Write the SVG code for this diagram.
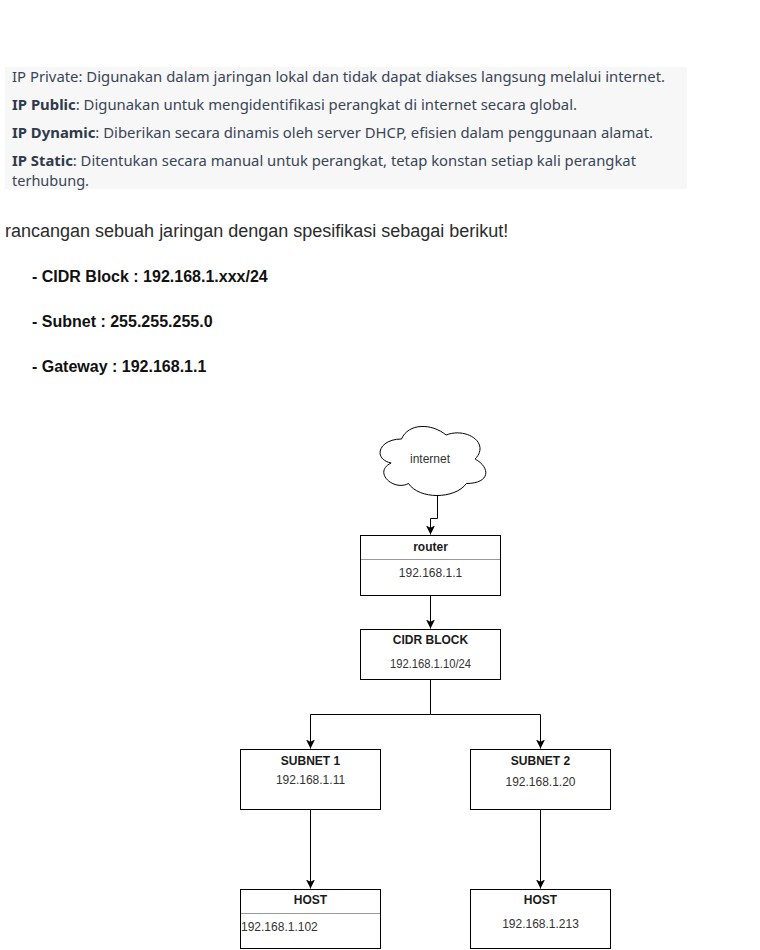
<svg xmlns="http://www.w3.org/2000/svg" width="760" height="950" viewBox="0 0 760 950">
<defs>
<style>
.intro{font-family:"Noto Sans","Open Sans","Liberation Sans",sans-serif;font-size:14px;fill:#3a4556}
.intro .b{font-weight:bold;fill:#2f3a4a}
.para{font-family:"Liberation Sans",Arial,sans-serif;font-size:18px;fill:#2b2b2b}
.spec{font-family:"Liberation Sans",Arial,sans-serif;font-size:16px;font-weight:bold;fill:#111}
.box{fill:#fff;stroke:#000;stroke-width:1}
.div{stroke:#999;stroke-width:1}
.t{font-family:"Liberation Sans",Arial,sans-serif;font-size:12px;font-weight:bold;fill:#1a1a1a;text-anchor:middle}
.ip{font-family:"Liberation Sans",Arial,sans-serif;font-size:12px;fill:#333;text-anchor:middle}
.edge{fill:none;stroke:#000;stroke-width:1}
</style>
<marker id="arr" viewBox="0 0 10 10" refX="10" refY="5" markerWidth="9" markerHeight="9" markerUnits="userSpaceOnUse" orient="auto">
<path d="M0,0 L10,5 L0,10 L2.5,5 Z" fill="#000"/>
</marker>
</defs>
<rect width="760" height="950" fill="#fff"/>

<g id="intro">
<rect x="5" y="67" width="682" height="122" fill="#f7f7f8"/>
<text class="intro" x="12" y="82" textLength="653" lengthAdjust="spacingAndGlyphs">IP Private: Digunakan dalam jaringan lokal dan tidak dapat diakses langsung melalui internet.</text>
<text class="intro" x="12" y="110" textLength="565" lengthAdjust="spacingAndGlyphs"><tspan class="b">IP Public</tspan>: Digunakan untuk mengidentifikasi perangkat di internet secara global.</text>
<text class="intro" x="12" y="138" textLength="641" lengthAdjust="spacingAndGlyphs"><tspan class="b">IP Dynamic</tspan>: Diberikan secara dinamis oleh server DHCP, efisien dalam penggunaan alamat.</text>
<text class="intro" x="12" y="166" textLength="624" lengthAdjust="spacingAndGlyphs"><tspan class="b">IP Static</tspan>: Ditentukan secara manual untuk perangkat, tetap konstan setiap kali perangkat</text>
<text class="intro" x="12" y="186" textLength="77" lengthAdjust="spacingAndGlyphs">terhubung.</text>
</g>

<g id="spec">
<text class="para" x="5" y="237">rancangan sebuah jaringan dengan spesifikasi sebagai berikut!</text>
<text class="spec" x="32" y="282">- CIDR Block : 192.168.1.xxx/24</text>
<text class="spec" x="32" y="327">- Subnet : 255.255.255.0</text>
<text class="spec" x="32" y="372">- Gateway : 192.168.1.1</text>
</g>

<g id="connectors">
<path class="edge" d="M437.5,495 V518.5 H430.5 V534.5" marker-end="url(#arr)"/>
<path class="edge" d="M430.5,595 V628.5" marker-end="url(#arr)"/>
<path class="edge" d="M430.5,679 V714.5 H310.5 V748.5" marker-end="url(#arr)"/>
<path class="edge" d="M430.5,714.5 H540.5 V748.5" marker-end="url(#arr)"/>
<path class="edge" d="M310.5,809 V888.5" marker-end="url(#arr)"/>
<path class="edge" d="M540.5,809 V888.5" marker-end="url(#arr)"/>
</g>

<g id="internet">
<path d="M401.5,439 C378.3,439 372.5,459 391.1,463 C372.5,472 393.4,491.5 408.5,483.5 C419,499.5 454.8,499.5 466.4,483.5 C490.6,483.5 490.6,467.5 475.1,459 C490.6,443 466.4,427 446.1,435 C431.6,423 408.3,423 401.5,439 Z" fill="#fff" stroke="#000" stroke-width="1"/>
<text class="ip" x="430" y="463">internet</text>
</g>

<g id="router">
<rect class="box" x="360.5" y="535.5" width="140" height="60"/>
<line class="div" x1="361" y1="559.5" x2="500" y2="559.5"/>
<text class="t" x="430.5" y="551">router</text>
<text class="ip" x="430.5" y="577">192.168.1.1</text>
</g>

<g id="cidr">
<rect class="box" x="360.5" y="629.5" width="140" height="50"/>
<text class="t" x="430.5" y="644">CIDR BLOCK</text>
<text class="ip" x="430.5" y="668" textLength="81" lengthAdjust="spacingAndGlyphs">192.168.1.10/24</text>
</g>

<g id="subnet1">
<rect class="box" x="240.5" y="749.5" width="140" height="60"/>
<text class="t" x="310.5" y="765">SUBNET 1</text>
<text class="ip" x="310.5" y="784">192.168.1.11</text>
</g>

<g id="subnet2">
<rect class="box" x="470.5" y="749.5" width="140" height="60"/>
<text class="t" x="540.5" y="765">SUBNET 2</text>
<text class="ip" x="540.5" y="786">192.168.1.20</text>
</g>

<g id="host1">
<rect class="box" x="240.5" y="889.5" width="140" height="59"/>
<line class="div" x1="241" y1="913.5" x2="380" y2="913.5"/>
<text class="t" x="310.5" y="904">HOST</text>
<text class="ip" x="241" y="931" style="text-anchor:start">192.168.1.102</text>
</g>

<g id="host2">
<rect class="box" x="470.5" y="889.5" width="140" height="59"/>
<text class="t" x="540.5" y="904">HOST</text>
<text class="ip" x="540.5" y="928">192.168.1.213</text>
</g>
</svg>
